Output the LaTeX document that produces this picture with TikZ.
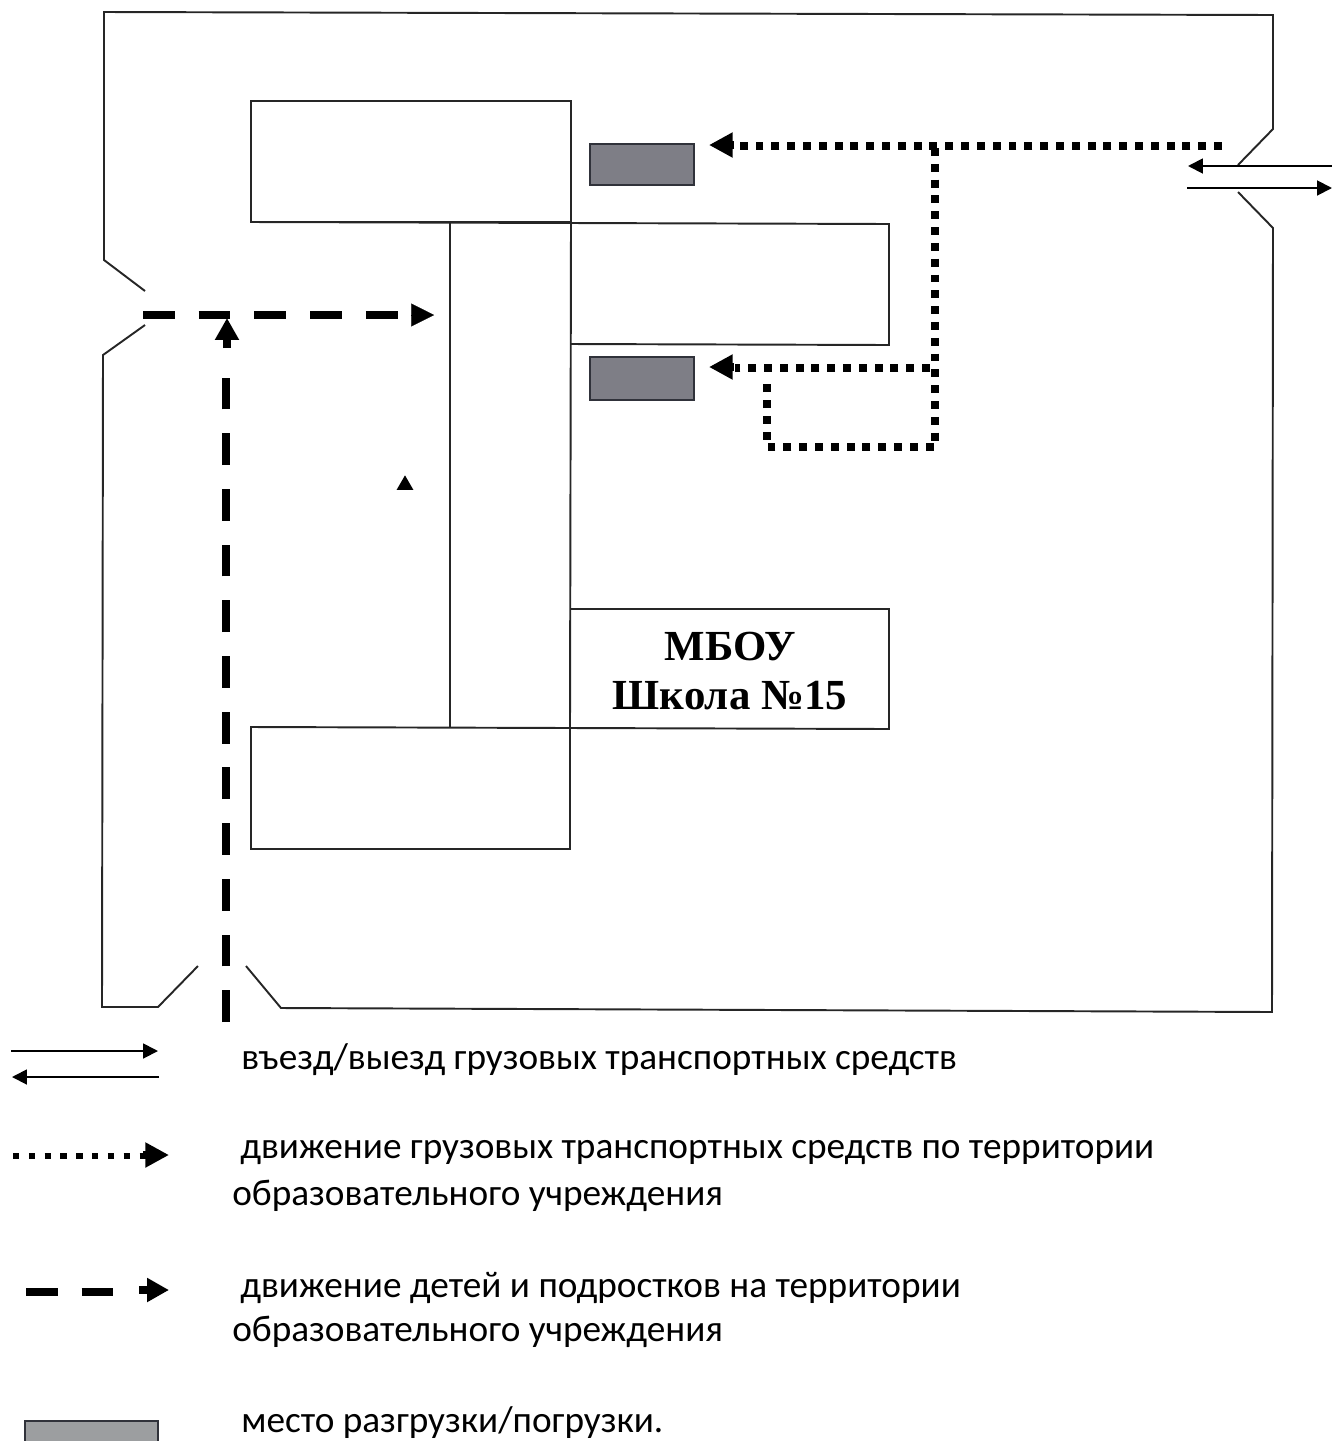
\documentclass[tikz,border=0pt]{standalone}
\usepackage{fontspec}
\setmainfont{Carlito}
\newfontfamily\serifb{Liberation Serif}
\usetikzlibrary{arrows.meta,shapes.geometric}
\definecolor{dockgray}{HTML}{7E7E86}
\definecolor{docklight}{HTML}{9C9EA0}
\definecolor{dockedge}{HTML}{30323A}
\tikzset{
  x=0.02cm,y=-0.02cm,
  thinline/.style={draw=black!85,line width=1.1pt},
  dock/.style={draw=dockedge,fill=dockgray,line width=1.3pt,inner sep=0pt,outer sep=0pt,anchor=north west},
  truckpath/.style={line width=4.5pt,dash pattern=on 4.5pt off 4.5pt},
  kidpath/.style={line width=4.8pt,dash pattern=on 18.1pt off 13.6pt},
  headtip/.style={-{Triangle[length=13.5pt,width=13.5pt]},line width=4.5pt},
  kidtip/.style={-{Triangle[length=12.5pt,width=13pt]},line width=4.8pt},
  smalltip/.style={-{Triangle[length=8.5pt,width=8.5pt]},line width=1.1pt},
  legend/.style={anchor=west,inner sep=0pt,font=\fontsize{21.2}{26}\selectfont,align=left},
  title/.style={anchor=center,inner sep=0pt,font=\serifb\bfseries\fontsize{24.4}{28.3}\selectfont,align=center}
}
\begin{document}
\begin{tikzpicture}
\useasboundingbox (0,0) rectangle (1332,1441);
% site boundary
\draw[thinline] (145,291) -- (104,260) -- (104,12) -- (1273,15) -- (1273,129) -- (1238,165);
\draw[thinline] (1238,192) -- (1273,228) -- (1272,1012) -- (281,1008) -- (246,966);
\draw[thinline] (198,966) -- (158,1007) -- (102,1007) -- (103,355) -- (145,325);
% buildings
\draw[thinline] (251,101) rectangle (571,222);
\draw[thinline] (251,222) -- (889,224) -- (889,345) -- (570,344);
\draw[thinline] (571,222) -- (570,727);
\draw[thinline] (450,222) -- (450,727);
\draw[thinline] (570,609) -- (889,609) -- (889,729) -- (251,727) -- (251,849) -- (570,849) -- (570,727);
\node[title] (school) at (730,671) {МБОУ\\Школа №15};
% docks
\node[dock,minimum width=2.08cm,minimum height=0.82cm] (dockA) at (590,144) {};
\node[dock,minimum width=2.08cm,minimum height=0.86cm] (dockB) at (590,357) {};
% gate arrows
\coordinate (gR1a) at (1332,166); \coordinate (gR1b) at (1188,166);
\coordinate (gR2a) at (1187,188); \coordinate (gR2b) at (1332,188);
\draw[smalltip] (gR1a) -- (gR1b);
\draw[smalltip] (gR2a) -- (gR2b);
% truck routes
\coordinate (t1) at (1222,146); \coordinate (t2) at (935,148);
\coordinate (t3) at (930,368); \coordinate (t4) at (935,447); \coordinate (t5) at (767,447); \coordinate (t6) at (767,378);
\coordinate (t7) at (735,146); \coordinate (t8) at (735,368);
\coordinate (h1a) at (734,145); \coordinate (h1b) at (709,145);
\coordinate (h2a) at (734,367); \coordinate (h2b) at (709,367);
\draw[truckpath] (t1) -- (t7);
\draw[headtip] (h1a) -- (h1b);
\draw[truckpath] (t2) -- (t4) -- (t5) -- (t6);
\draw[truckpath] (t3) -- (t8);
\draw[headtip] (h2a) -- (h2b);
% children routes
\coordinate (c1) at (143,315); \coordinate (c2) at (226,1022); \coordinate (c3) at (226,372);
\coordinate (c4) at (227,348); \coordinate (c5) at (227,318);
\coordinate (c6) at (400,315); \coordinate (c7) at (411,315); \coordinate (c8) at (434,315);
\draw[kidpath] (c1) -- (c6);
\draw[-{Triangle[length=13pt,width=13pt]},line width=0.1pt] (c7) -- (c8);
\draw[kidpath] (c2) -- (c3);
\draw[kidtip] (c4) -- (c5);
% marker
\node[fill=black,regular polygon,regular polygon sides=3,inner sep=0pt,minimum size=11pt] (mark) at (405,485) {};
% legend
\coordinate (l1a) at (11,1051); \coordinate (l1b) at (158,1051);
\coordinate (l2a) at (159,1077); \coordinate (l2b) at (12,1077);
\draw[smalltip] (l1a) -- (l1b);
\draw[smalltip] (l2a) -- (l2b);
\coordinate (l3a) at (13,1156); \coordinate (l3b) at (143,1156);
\coordinate (l3c) at (143,1155); \coordinate (l3d) at (169,1155);
\draw[line width=3.6pt,dash pattern=on 3.6pt off 5.4pt] (l3a) -- (l3b);
\draw[headtip] (l3c) -- (l3d);
\coordinate (l4a) at (26,1292); \coordinate (l4b) at (114,1292);
\coordinate (l4c) at (139,1290); \coordinate (l4d) at (169,1290);
\draw[line width=4.4pt,dash pattern=on 18pt off 13.6pt] (l4a) -- (l4b);
\draw[kidtip] (l4c) -- (l4d);
\node[dock,fill=docklight,minimum width=2.66cm,minimum height=0.42cm] (dockL) at (25,1421) {};
\node[legend] (txt1) at (241,1060) {въезд/выезд грузовых транспортных средств};
\node[legend] (txt2) at (240,1152) {движение грузовых транспортных средств по территории};
\node[legend] (txt2b) at (232,1196) {образовательного учреждения};
\node[legend] (txt3) at (240,1288) {движение детей и подростков на территории};
\node[legend] (txt3b) at (232,1332) {образовательного учреждения};
\node[legend] (txt4) at (241,1423) {место разгрузки/погрузки.};
\end{tikzpicture}
\end{document}
